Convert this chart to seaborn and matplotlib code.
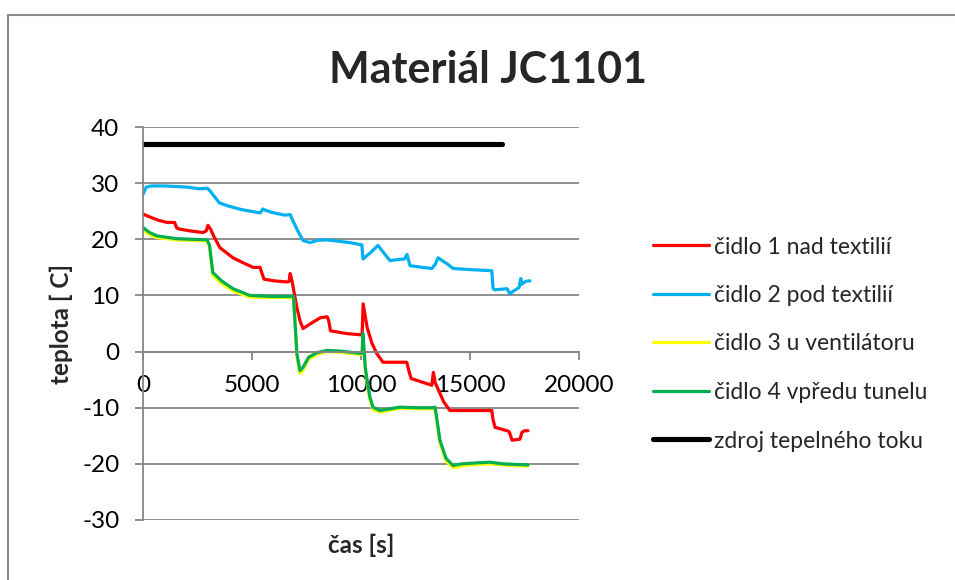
import matplotlib
matplotlib.use("Agg")
import matplotlib.pyplot as plt
from matplotlib.lines import Line2D
import seaborn as sns
import pandas as pd

# --- measured temperatures ---------------------------------------------------
t_c1 = [0, 300, 700, 1100, 1450, 1550, 1700, 2150, 2750, 2900, 2980, 3100,
        3250, 3530, 4130, 4600, 5050, 5370, 5450, 5550, 6000, 6600, 6700,
        6750, 6850, 7050, 7200, 7340, 7700, 8120, 8450, 8520, 8600, 9350,
        9950, 10050, 10100, 10280, 10500, 10730, 11010, 12100, 12200, 12300,
        12850, 13250, 13320, 13400, 13500, 13800, 14080, 15000, 16000, 16050,
        16150, 16700, 16800, 16930, 17290, 17380, 17500, 17660]
T_c1 = [24.5, 24.0, 23.4, 23.0, 23.0, 22.0, 21.8, 21.5, 21.2, 21.5, 22.5, 21.8,
        20.5, 18.5, 16.7, 15.8, 15.0, 15.0, 14.0, 12.9, 12.6, 12.4, 12.5,
        13.9, 12.3, 8.0, 5.5, 4.1, 5.0, 6.0, 6.2, 5.5, 3.7, 3.2,
        3.0, 3.0, 8.5, 4.3, 1.5, -0.4, -1.9, -1.9, -3.5, -4.8,
        -5.5, -6.0, -3.7, -5.5, -6.4, -9.0, -10.5, -10.5, -10.5, -12.0,
        -13.5, -14.1, -14.3, -15.8, -15.6, -14.4, -14.1, -14.1]

t_c2 = [0, 150, 400, 1000, 2000, 2600, 2950, 3100, 3500, 3850, 4500, 5370,
        5500, 5600, 5900, 6500, 6750, 6850, 7100, 7340, 7660, 8000, 8440,
        9500, 10040, 10090, 10400, 10780, 11000, 11330, 11700, 12000, 12110,
        12250, 12800, 13250, 13400, 13530, 14000, 14220, 15000, 16000, 16060,
        16150, 16700, 16830, 17000, 17250, 17330, 17380, 17550, 17750]
T_c2 = [28.0, 29.3, 29.5, 29.5, 29.3, 29.0, 29.1, 28.5, 26.5, 26.0, 25.3, 24.7,
        25.4, 25.2, 24.8, 24.3, 24.4, 23.5, 21.5, 19.8, 19.4, 19.8, 19.9,
        19.4, 19.0, 16.5, 17.5, 18.9, 17.8, 16.2, 16.4, 16.5, 17.3,
        15.3, 15.0, 14.8, 15.5, 16.7, 15.5, 14.8, 14.6, 14.4, 11.2,
        11.0, 11.2, 10.3, 10.8, 11.4, 13.0, 12.0, 12.5, 12.6]

t_c34 = [0, 300, 640, 1560, 2935, 3050, 3200, 3600, 4130, 4900, 6000, 6740,
         6900, 7060, 7200, 7340, 7600, 7980, 8440, 9000, 9950, 10050, 10090,
         10200, 10400, 10550, 10870, 11790, 12500, 13300, 13400, 13620, 13900,
         14220, 14600, 15000, 15900, 16500, 17660]
T_c3 = [21.6, 20.8, 20.3, 19.9, 19.7, 18.6, 13.6, 12.1, 10.8, 9.7, 9.6, 9.6,
        9.7, -1.0, -3.9, -3.3, -1.4, -0.5, 0.0, -0.1, -0.5, -0.5, 2.8,
        -3.5, -8.5, -10.3, -10.8, -10.1, -10.2, -10.2, -10.2, -16.3, -19.5,
        -20.7, -20.4, -20.2, -20.0, -20.2, -20.4]
T_c4 = [22.1, 21.2, 20.6, 20.1, 19.9, 19.0, 14.1, 12.6, 11.2, 10.0, 9.8, 9.8,
        9.9, -0.4, -3.4, -2.8, -1.0, -0.2, 0.2, 0.1, -0.3, -0.3, 3.2,
        -3.0, -8.0, -9.9, -10.5, -9.9, -10.0, -10.0, -9.9, -15.8, -19.0,
        -20.3, -20.0, -19.9, -19.7, -20.0, -20.2]

t_src = [0, 16470]
T_src = [37, 37]

labels = ["čidlo 1 nad textilií", "čidlo 2 pod textilií", "čidlo 3 u ventilátoru",
          "čidlo 4 vpředu tunelu", "zdroj tepelného toku"]
colors = ["#FF0000", "#00B0F0", "#FFFF00", "#00B050", "#000000"]
widths = [2.3, 2.3, 2.3, 2.3, 3.7]

series = [(t_c1, T_c1), (t_c2, T_c2), (t_c34, T_c3), (t_c34, T_c4), (t_src, T_src)]
frames = [pd.DataFrame({"cas": t, "teplota": T, "serie": lab})
          for (t, T), lab in zip(series, labels)]
data = pd.concat(frames, ignore_index=True)

# --- figure -----------------------------------------------------------------
sns.set_theme(style="white")
plt.rcParams["font.family"] = ["Lato", "DejaVu Sans"]
plt.rcParams["axes.unicode_minus"] = False

W, H = 955, 580
fig = plt.figure(figsize=(W / 100, H / 100), dpi=100)
ax = fig.add_axes([143 / W, 1 - 520 / H, 436 / W, 393 / H])

grid_col = "#868686"
for lab, col, lw in zip(labels, colors, widths):
    sub = data[data["serie"] == lab]
    sns.lineplot(data=sub, x="cas", y="teplota", ax=ax, color=col, lw=lw,
                 sort=False, estimator=None, legend=False, solid_capstyle="round")

ax.set_xlim(0, 20000)
ax.set_ylim(-30, 40)
ax.set_xticks(range(0, 20001, 5000))
ax.set_yticks(range(-30, 41, 10))
ax.yaxis.grid(True, color=grid_col, lw=1.3)
ax.xaxis.grid(False)
ax.set_axisbelow(True)

for s in ("top", "right"):
    ax.spines[s].set_visible(False)
ax.spines["left"].set_color(grid_col)
ax.spines["left"].set_linewidth(1.3)
ax.spines["bottom"].set_position(("data", 0))
ax.spines["bottom"].set_color(grid_col)
ax.spines["bottom"].set_linewidth(1.3)

ax.tick_params(axis="both", which="major", direction="out", length=6,
               width=1.3, color=grid_col, labelsize=17.5, labelcolor="black")
ax.tick_params(axis="x", bottom=True, pad=11)
ax.tick_params(axis="y", left=True, pad=11)

ax.set_xlabel("čas [s]", fontsize=17.5, fontweight="bold", va="center")
ax.xaxis.set_label_coords(0.5, -(545 - 520) / 393)
ax.set_ylabel("teplota [ C]", fontsize=17.5, fontweight="bold", va="center")
ax.yaxis.set_label_coords((61 - 143) / 436, 0.5)

fig.text(488 / W, 1 - 83 / H, "Materiál JC1101", fontsize=31, fontweight="bold",
         ha="center", va="baseline")

handles = [Line2D([], [], color=c, lw=w) for c, w in zip(colors, widths)]
fig.legend(handles, labels, loc="center left", bbox_to_anchor=(653 / W, 1 - 344 / H),
           frameon=False, fontsize=16.5, handlelength=2.45, handletextpad=0.22,
           labelspacing=1.2, borderpad=0, borderaxespad=0)

# chart-area border
fig.add_artist(Line2D([8 / W, 8 / W], [-0.05, 1 - 15 / H], color="#8c8c8c", lw=1.5))
fig.add_artist(Line2D([8 / W, 1.05], [1 - 15 / H, 1 - 15 / H], color="#8c8c8c", lw=1.5))

fig.savefig("out.png", dpi=100)
